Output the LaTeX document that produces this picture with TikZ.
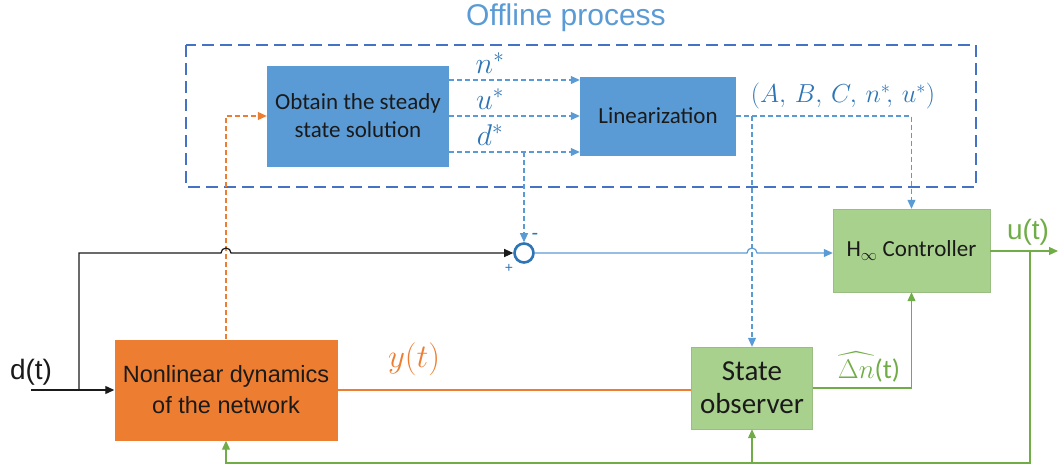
\RequirePackage{fix-cm}
\documentclass[tikz,border=0pt]{standalone}
\usepackage{fontspec}
\usepackage{amsmath}
\setmainfont{Liberation Sans}
\newfontfamily\carlitofont{Carlito}
\usetikzlibrary{arrows.meta,calc}
\definecolor{bfill}{HTML}{5B9BD5}
\definecolor{ofill}{HTML}{ED7D31}
\definecolor{gfill}{HTML}{A9D18E}
\definecolor{bedge}{HTML}{4472C4}
\definecolor{bline}{HTML}{5B9BD5}
\definecolor{gline}{HTML}{70AD47}
\definecolor{btext}{HTML}{2E75B6}
\definecolor{ink}{HTML}{1A1A1A}
\begin{document}
\begin{tikzpicture}[x=1pt,y=-1pt,
  box/.style={draw=none,inner sep=0pt,align=center,text=ink},
  bluebox/.style={box,fill=bfill,font=\carlitofont\fontsize{23}{28}\selectfont},
  greenbox/.style={box,fill=gfill,draw=gfill!85!black!60!gfill,line width=0.4pt},
  tip/.style={-{Triangle[length=9pt,width=8pt]}},
  bdash/.style={draw=bline,line width=1.1pt,dash pattern=on 5pt off 3pt},
  odash/.style={draw=ofill,line width=1.1pt,dash pattern=on 5pt off 3pt},
  gconn/.style={draw=gline,line width=1.2pt},
  mlabel/.style={text=btext,inner sep=1pt,font=\fontsize{30}{34}\selectfont}
]
\useasboundingbox (0,0) rectangle (1058,466);

% title and dashed frame
\node[text=bfill,font=\fontsize{30}{34}\selectfont] (title) at (566,18) {Offline process};
\draw[draw=bedge,line width=2.6pt,dash pattern=on 12pt off 6pt] (186,45) rectangle (976,187);

% blocks
\node[bluebox,minimum width=182pt,minimum height=101pt] (obt) at (358,116) {Obtain the steady\\state solution};
\node[bluebox,minimum width=156pt,minimum height=79pt] (lin) at (658,116) {Linearization};
\node[box,fill=ofill,minimum width=223pt,minimum height=101pt,font=\fontsize{23.5}{31}\selectfont] (nl) at (226,390) {Nonlinear dynamics\\of the network};
\node[greenbox,minimum width=121pt,minimum height=82pt,font=\carlitofont\fontsize{29}{33}\selectfont] (obs) at (752,388) {State\\observer};
\node[greenbox,minimum width=157pt,minimum height=83pt,font=\carlitofont\fontsize{23}{27}\selectfont] (ctl) at (911.5,250.5) {H$_{\infty}$ Controller};
\node[circle,draw=btext,line width=2.6pt,fill=white,minimum size=19pt,inner sep=0pt] (sum) at (524,253) {};

% offline arrows
\draw[bdash,tip] ([yshift=36pt]obt.east) -- ([yshift=36pt]lin.west);
\draw[bdash,tip] (obt.east) -- (lin.west);
\draw[bdash,tip] ([yshift=-36pt]obt.east) -- ([yshift=-36pt]lin.west);
\node[mlabel] (ln) at (490,63) {$n^{*}$};
\node[mlabel] (lu) at (490,99) {$u^{*}$};
\node[mlabel] (ld) at (490,135) {$d^{*}$};
\node[mlabel,font=\fontsize{26}{30}\selectfont] (lab) at (843,96) {$(A,\,B,\,C,\,n^{*}\!,\,u^{*})$};

\coordinate (dj) at (524,152);
\draw[bdash,tip] (dj) -- (sum.north);
\draw[bdash,tip] (lin.east) -| (ctl.north);
\coordinate (lb) at (752,116);
\draw[bdash,tip] (lb) -- (obs.north);
\node[text=btext,font=\fontsize{20}{20}\selectfont] (minus) at (535,236) {-};
\node[text=btext,font=\fontsize{14}{14}\selectfont] (plus) at (509,268) {+};

% orange dashed feedback to steady-state
\draw[odash,tip] (nl.north) |- (obt.west);

% d(t) input
\node[text=ink,font=\fontsize{28}{32}\selectfont] (dt) at (31,372) {d(t)};
\coordinate (din) at (31,390);
\coordinate (dsplit) at (79,390);
\draw[ink,line width=1.2pt,tip] (din) -- (nl.west);
\draw[ink,line width=1.2pt,tip] (dsplit) -- (79,253) -- (221,253) arc[start angle=180,end angle=0,radius=5pt] -- (sum.west);

% error to controller, with jump
\draw[bline,line width=1.2pt,tip] (sum.east) -- (747,253) arc[start angle=180,end angle=0,radius=5pt] -- (ctl.west |- sum);

% y(t)
\draw[ofill,line width=1.2pt] (nl.east) -- (nl.east -| obs.west);
\node[text=ofill,inner sep=1pt,font=\fontsize{33}{36}\selectfont] (yt) at (414,359) {$y(t)$};

% observer to controller
\draw[gconn,tip] (obs.east) -| (ctl.south);
\node[text=gline,inner sep=1pt,font=\carlitofont\fontsize{27}{30}\selectfont] (dn) at (869,367) {$\widehat{\Delta n}$(t)};

% controller output and feedback
\coordinate (uout) at (1058,251);
\coordinate (ub) at (1030,251);
\draw[gconn,tip] (ctl.east |- uout) -- (uout);
\node[text=gline,font=\fontsize{28}{32}\selectfont] (ut) at (1028,232) {u(t)};
\coordinate (bot) at (752,463);
\draw[gconn,tip] (ub) -- (1030,463) -| (nl.south);
\draw[gconn,tip] (bot) -- (obs.south);
\end{tikzpicture}
\end{document}
